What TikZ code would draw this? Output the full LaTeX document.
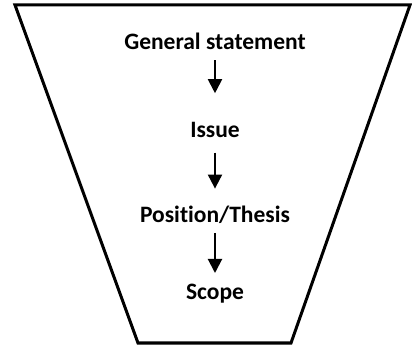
\documentclass[tikz,border=0pt]{standalone}
\usepackage{fontspec}
\setmainfont[Ligatures=NoCommon]{Carlito}
\usepackage{tikz}
\usetikzlibrary{positioning, arrows.meta}

\begin{document}
\begin{tikzpicture}[x=1bp, y=1bp,
    stage/.style={font=\fontsize{23.6}{28}\selectfont\bfseries, inner sep=0, text height=15bp, text depth=5.5bp},
    flow/.style={line width=2bp, -{Triangle[width=14bp, length=14bp]}}]
    \useasboundingbox (0,0) rectangle (412,345);
    % funnel
    \draw[line width=3bp, line join=miter] (15,340) -- (410,340) -- (291,2) -- (138,2) -- cycle;

    \node[stage, anchor=base] (gs) at (215,296) {General statement};
    \node[stage, below=67.5bp of gs] (issue) {Issue};
    \node[stage, below=64.5bp of issue] (thesis) {Position/Thesis};
    \node[stage, below=55.5bp of thesis] (scope) {Scope};

    \draw[flow, shorten <=5.5bp, shorten >=29bp] (gs) -- (issue);
    \draw[flow, shorten <=9.5bp, shorten >=19bp] (issue) -- (thesis);
    \draw[flow, shorten <=4.5bp, shorten >=11bp] (thesis) -- (scope);
\end{tikzpicture}
\end{document}
